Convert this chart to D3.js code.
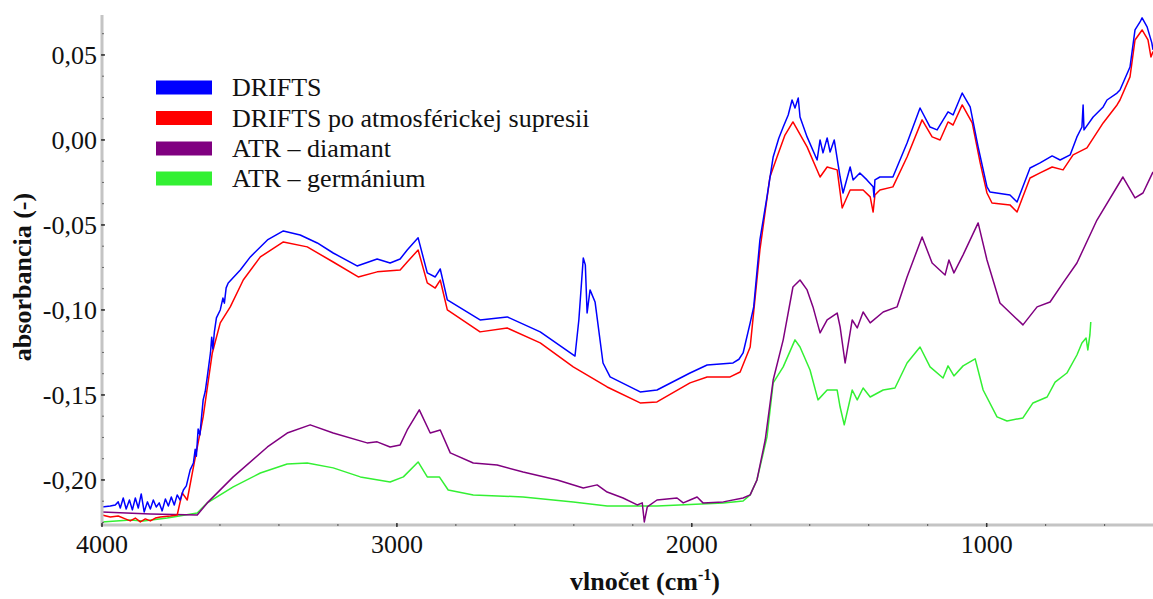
<!DOCTYPE html>
<html><head><meta charset="utf-8">
<script src="https://cdn.jsdelivr.net/npm/d3@7"></script>
<style>body{margin:0;background:#fff}svg{display:block}</style>
</head><body>
<svg id="c" width="1153" height="599"></svg>
<script>
// ---- data (wavenumber cm-1, absorbance) ----
const seriesNames = ["DRIFTS", "DRIFTS po atmosférickej supresii", "ATR – diamant", "ATR – germánium"];
const driftsData = [[4000,-0.2159],[3972,-0.2153],[3955,-0.2147],[3945,-0.2129],[3938,-0.2165],[3928,-0.2106],[3918,-0.2171],[3907,-0.2118],[3897,-0.2176],[3887,-0.2106],[3877,-0.2165],[3867,-0.2082],[3857,-0.2188],[3846,-0.2129],[3836,-0.2171],[3826,-0.2118],[3816,-0.2159],[3806,-0.2135],[3796,-0.2182],[3785,-0.2112],[3775,-0.2153],[3765,-0.2100],[3755,-0.2147],[3745,-0.2088],[3735,-0.2118],[3724,-0.2059],[3714,-0.2035],[3701,-0.1941],[3690,-0.1900],[3684,-0.1820],[3680,-0.1860],[3674,-0.1700],[3668,-0.1735],[3657,-0.1529],[3650,-0.1480],[3643,-0.1394],[3632,-0.1250],[3628,-0.1160],[3624,-0.1230],[3619,-0.1130],[3612,-0.1047],[3599,-0.1000],[3590,-0.0930],[3585,-0.0960],[3579,-0.0870],[3572,-0.0841],[3531,-0.0765],[3497,-0.0688],[3439,-0.0588],[3385,-0.0535],[3328,-0.0559],[3270,-0.0606],[3216,-0.0665],[3135,-0.0741],[3067,-0.0700],[3023,-0.0724],[2989,-0.0700],[2965,-0.0647],[2928,-0.0576],[2897,-0.0782],[2870,-0.0806],[2853,-0.0759],[2829,-0.0941],[2718,-0.1059],[2626,-0.1041],[2514,-0.1129],[2396,-0.1271],[2383,-0.1059],[2368,-0.0694],[2361,-0.0735],[2355,-0.1018],[2345,-0.0882],[2328,-0.0953],[2301,-0.1312],[2277,-0.1394],[2175,-0.1482],[2118,-0.1471],[2006,-0.1371],[1948,-0.1324],[1860,-0.1312],[1840,-0.1290],[1826,-0.1253],[1802,-0.1076],[1790,-0.0982],[1769,-0.0588],[1745,-0.0335],[1724,-0.0100],[1705,0.0010],[1690,0.0076],[1673,0.0147],[1660,0.0235],[1650,0.0188],[1639,0.0247],[1633,0.0135],[1609,0.0018],[1575,-0.0118],[1565,0.0000],[1555,-0.0076],[1541,0.0012],[1531,-0.0071],[1517,0.0000],[1497,-0.0218],[1487,-0.0312],[1463,-0.0159],[1453,-0.0235],[1430,-0.0194],[1406,-0.0235],[1385,-0.0276],[1382,-0.0335],[1379,-0.0235],[1362,-0.0218],[1318,-0.0218],[1270,-0.0018],[1226,0.0188],[1192,0.0076],[1168,0.0059],[1131,0.0165],[1114,0.0147],[1083,0.0276],[1056,0.0194],[1029,-0.0041],[999,-0.0276],[989,-0.0306],[921,-0.0324],[897,-0.0365],[853,-0.0165],[819,-0.0135],[778,-0.0094],[751,-0.0118],[717,-0.0088],[694,0.0018],[677,0.0076],[673,0.0206],[670,0.0059],[639,0.0135],[605,0.0194],[592,0.0235],[558,0.0276],[548,0.0294],[514,0.0429],[497,0.0647],[480,0.0694],[473,0.0718],[456,0.0665],[440,0.0571],[436,0.0530]];
const driftsSupData = [[4000,-0.2206],[3972,-0.2218],[3945,-0.2212],[3921,-0.2229],[3904,-0.2241],[3887,-0.2224],[3870,-0.2247],[3853,-0.2229],[3836,-0.2241],[3819,-0.2224],[3802,-0.2218],[3768,-0.2212],[3745,-0.2206],[3728,-0.2076],[3711,-0.2118],[3690,-0.1924],[3657,-0.1629],[3626,-0.1253],[3599,-0.1076],[3565,-0.0982],[3521,-0.0824],[3463,-0.0688],[3385,-0.0600],[3304,-0.0629],[3216,-0.0718],[3131,-0.0806],[3067,-0.0776],[2989,-0.0765],[2965,-0.0718],[2928,-0.0647],[2897,-0.0841],[2870,-0.0871],[2853,-0.0824],[2829,-0.1000],[2718,-0.1129],[2626,-0.1106],[2514,-0.1194],[2402,-0.1335],[2287,-0.1453],[2175,-0.1547],[2118,-0.1541],[2006,-0.1429],[1948,-0.1394],[1870,-0.1394],[1836,-0.1365],[1802,-0.1218],[1769,-0.0647],[1735,-0.0218],[1711,-0.0100],[1684,0.0029],[1657,0.0106],[1609,-0.0041],[1565,-0.0218],[1541,-0.0159],[1507,-0.0176],[1490,-0.0400],[1463,-0.0294],[1419,-0.0294],[1395,-0.0335],[1385,-0.0424],[1379,-0.0324],[1362,-0.0294],[1318,-0.0276],[1270,-0.0100],[1219,0.0118],[1185,0.0018],[1158,0.0000],[1131,0.0106],[1114,0.0088],[1083,0.0206],[1049,0.0100],[1022,-0.0135],[999,-0.0312],[982,-0.0371],[921,-0.0382],[897,-0.0424],[853,-0.0224],[819,-0.0194],[778,-0.0159],[741,-0.0176],[707,-0.0088],[660,-0.0047],[605,0.0100],[558,0.0206],[548,0.0235],[514,0.0371],[497,0.0588],[473,0.0647],[453,0.0588],[443,0.0488],[436,0.0520]];
const atrDiamondData = [[4000,-0.2188],[3836,-0.2200],[3677,-0.2206],[3643,-0.2135],[3555,-0.1982],[3439,-0.1806],[3372,-0.1724],[3294,-0.1676],[3216,-0.1724],[3101,-0.1782],[3067,-0.1776],[3023,-0.1806],[2989,-0.1794],[2965,-0.1706],[2924,-0.1588],[2887,-0.1724],[2853,-0.1706],[2819,-0.1841],[2741,-0.1900],[2660,-0.1912],[2572,-0.1953],[2456,-0.2000],[2368,-0.2047],[2321,-0.2029],[2287,-0.2071],[2233,-0.2106],[2185,-0.2147],[2168,-0.2135],[2161,-0.2247],[2151,-0.2159],[2118,-0.2118],[2050,-0.2106],[2029,-0.2135],[2006,-0.2118],[1982,-0.2100],[1962,-0.2135],[1893,-0.2129],[1826,-0.2106],[1802,-0.2088],[1779,-0.2000],[1751,-0.1765],[1724,-0.1412],[1690,-0.1176],[1657,-0.0865],[1633,-0.0824],[1609,-0.0882],[1589,-0.0982],[1565,-0.1135],[1541,-0.1059],[1507,-0.1018],[1497,-0.1100],[1480,-0.1312],[1456,-0.1059],[1439,-0.1106],[1419,-0.1012],[1395,-0.1076],[1351,-0.1012],[1304,-0.0982],[1270,-0.0806],[1219,-0.0571],[1185,-0.0724],[1141,-0.0794],[1128,-0.0706],[1111,-0.0782],[1080,-0.0676],[1029,-0.0488],[999,-0.0706],[955,-0.0959],[877,-0.1088],[829,-0.0982],[785,-0.0953],[741,-0.0841],[694,-0.0724],[626,-0.0471],[538,-0.0218],[497,-0.0341],[470,-0.0312],[436,-0.0188]];
const atrGermaniumData = [[4000,-0.2247],[3904,-0.2235],[3860,-0.2241],[3779,-0.2224],[3677,-0.2194],[3643,-0.2135],[3555,-0.2041],[3463,-0.1959],[3372,-0.1906],[3304,-0.1900],[3216,-0.1929],[3124,-0.1982],[3023,-0.2012],[2978,-0.1982],[2928,-0.1894],[2897,-0.1982],[2856,-0.1982],[2826,-0.2059],[2741,-0.2088],[2572,-0.2100],[2402,-0.2129],[2287,-0.2153],[2118,-0.2153],[1893,-0.2135],[1826,-0.2124],[1802,-0.2088],[1779,-0.2000],[1745,-0.1747],[1724,-0.1429],[1690,-0.1335],[1650,-0.1176],[1633,-0.1218],[1599,-0.1353],[1572,-0.1529],[1541,-0.1471],[1507,-0.1471],[1497,-0.1571],[1483,-0.1676],[1456,-0.1471],[1439,-0.1529],[1419,-0.1459],[1395,-0.1512],[1351,-0.1471],[1311,-0.1459],[1270,-0.1312],[1226,-0.1218],[1192,-0.1335],[1148,-0.1400],[1131,-0.1329],[1111,-0.1388],[1080,-0.1329],[1039,-0.1288],[1012,-0.1471],[965,-0.1629],[931,-0.1653],[877,-0.1635],[843,-0.1547],[795,-0.1512],[768,-0.1424],[728,-0.1371],[694,-0.1265],[677,-0.1194],[663,-0.1165],[657,-0.1235],[650,-0.1147],[647,-0.1071]];
const xTickValues = [4000, 3000, 2000, 1000];
const yTickValues = [0.05, 0, -0.05, -0.10, -0.15, -0.20];
const colors = ["#0000ff", "#ff0000", "#800080", "#33f033"];

// ---- layout ----
const svg = d3.select("#c");
const m = {left: 102, right: 1153, top: 15, bottom: 525};
const x = d3.scaleLinear().domain([4000, 436]).range([m.left, m.right]);
const y = d3.scaleLinear().domain([0.0735, -0.2265]).range([m.top, m.bottom]);
const fmt = v => d3.format(".2f")(v).replace(".", ",").replace("−", "-");

// series
const line = d3.line().x(d => x(d[0])).y(d => y(d[1]));
const order = [[atrGermaniumData, 3], [atrDiamondData, 2], [driftsSupData, 1], [driftsData, 0]];
const g = svg.append("g");
order.forEach(([data, i]) => {
  g.append("path").datum(data).attr("d", line)
    .attr("fill", "none").attr("stroke", colors[i]).attr("stroke-width", 1.5)
    .attr("stroke-linejoin", "round");
});

// axes lines
svg.append("line").attr("x1", m.left).attr("x2", m.left).attr("y1", m.top).attr("y2", m.bottom + 1)
  .attr("stroke", "#c4c4c4").attr("stroke-width", 3);
svg.append("line").attr("x1", m.left - 1).attr("x2", 1153).attr("y1", m.bottom).attr("y2", m.bottom)
  .attr("stroke", "#c4c4c4").attr("stroke-width", 3);

// minor ticks
const xMinor = d3.range(4000, 400, -200);
svg.selectAll(".xm").data(xMinor).enter().append("line")
  .attr("x1", d => x(d)).attr("x2", d => x(d)).attr("y1", m.bottom - 1).attr("y2", m.bottom + 1)
  .attr("stroke", "#555").attr("stroke-width", 1);
const yMinor = d3.range(-0.2250, 0.074, 0.0125);
svg.selectAll(".ym").data(yMinor).enter().append("line")
  .attr("x1", m.left).attr("x2", m.left + 2).attr("y1", d => y(d)).attr("y2", d => y(d))
  .attr("stroke", "#666").attr("stroke-width", 1);

// major ticks
svg.selectAll(".xM").data(xTickValues).enter().append("line")
  .attr("x1", d => x(d)).attr("x2", d => x(d)).attr("y1", m.bottom - 2).attr("y2", m.bottom + 2)
  .attr("stroke", "#333").attr("stroke-width", 1.5);
svg.selectAll(".yM").data(yTickValues).enter().append("line")
  .attr("x1", m.left - 1).attr("x2", m.left + 3).attr("y1", d => y(d)).attr("y2", d => y(d))
  .attr("stroke", "#333").attr("stroke-width", 1.5);

// tick labels
const font = "'Liberation Serif','Times New Roman',serif";
svg.selectAll(".xl").data(xTickValues).enter().append("text")
  .attr("x", d => x(d)).attr("y", 553).attr("text-anchor", "middle")
  .attr("font-family", font).attr("font-size", 26).attr("fill", "#111").text(d => d);
svg.selectAll(".yl").data(yTickValues).enter().append("text")
  .attr("x", 97).attr("y", d => y(d) + 9).attr("text-anchor", "end")
  .attr("font-family", font).attr("font-size", 26).attr("fill", "#111").text(d => fmt(d));

// axis titles
const xt = svg.append("text").attr("x", 645).attr("y", 590).attr("text-anchor", "middle")
  .attr("font-family", font).attr("font-size", 26).attr("font-weight", "bold").attr("fill", "#111");
xt.append("tspan").text("vlnočet (cm");
xt.append("tspan").attr("dy", -10).attr("font-size", 16).text("-1");
xt.append("tspan").attr("dy", 10).text(")");
svg.append("text").attr("transform", "translate(31,277) rotate(-90)").attr("text-anchor", "middle")
  .attr("font-family", font).attr("font-size", 26).attr("font-weight", "bold").attr("fill", "#111")
  .text("absorbancia (-)");

// legend
const legY = [87.5, 118, 148.5, 178.5];
seriesNames.forEach((name, i) => {
  svg.append("rect").attr("x", 156).attr("y", legY[i] - 7).attr("width", 56).attr("height", 14)
    .attr("fill", colors[i]);
  svg.append("text").attr("x", 232).attr("y", legY[i] + 8.5)
    .attr("font-family", font).attr("font-size", 26).attr("fill", "#111").text(name);
});
</script>
</body></html>
